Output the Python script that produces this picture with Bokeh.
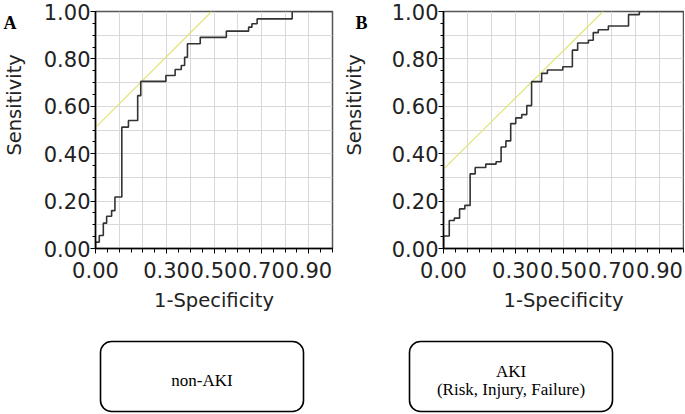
import math
from bokeh.plotting import figure
from bokeh.models import (Range1d, FixedTicker, NumeralTickFormatter, Label,
                          BoxAnnotation)
from bokeh.layouts import column, row
from bokeh.embed import file_html
from bokeh.resources import INLINE

# ---------------- data ----------------
# Panel A: non-AKI ROC curve (step corners: at fpr the curve rises to tpr)
fpr_a = [0.000, 0.000, 0.016, 0.033, 0.047, 0.068, 0.082, 0.111, 0.139, 0.178,
         0.191, 0.297, 0.336, 0.362, 0.376, 0.388, 0.442, 0.552, 0.646, 0.660,
         0.682, 0.830, 1.000]
tpr_a = [0.000, 0.027, 0.055, 0.107, 0.136, 0.160, 0.217, 0.512, 0.540, 0.645,
         0.705, 0.730, 0.755, 0.772, 0.807, 0.864, 0.891, 0.917, 0.934, 0.948,
         0.969, 1.000, 1.000]
# Panel B: AKI ROC curve
fpr_b = [0.000, 0.000, 0.024, 0.045, 0.067, 0.089, 0.111, 0.132, 0.176, 0.219,
         0.240, 0.260, 0.280, 0.301, 0.326, 0.347, 0.367, 0.409, 0.433, 0.497,
         0.537, 0.559, 0.604, 0.624, 0.645, 0.687, 0.771, 0.816, 1.000]
tpr_b = [0.000, 0.053, 0.118, 0.128, 0.167, 0.182, 0.315, 0.342, 0.356, 0.366,
         0.428, 0.454, 0.527, 0.551, 0.565, 0.603, 0.704, 0.739, 0.753, 0.767,
         0.837, 0.867, 0.879, 0.911, 0.923, 0.939, 0.987, 1.000, 1.000]
# Tangent (slope 1) lines through the optimal cut-off
tan_a_x = [0.0, 0.49]
tan_a_y = [0.51, 1.00]
tan_b_x = [0.0, 0.665]
tan_b_y = [0.335, 1.00]

x_major = [0.0, 0.3, 0.5, 0.7, 0.9]
y_major = [0.0, 0.2, 0.4, 0.6, 0.8, 1.0]
grid_ticks = [0.1, 0.2, 0.3, 0.4, 0.5, 0.6, 0.7, 0.8, 0.9]
minor_ticks = [round(i * 0.05, 2) for i in range(21)]

panel_letters = ["A", "B"]
y_title = "Sensitivity"
x_title = "1-Specificity"
box_texts = [["non-AKI"], ["AKI", "(Risk, Injury, Failure)"]]

SANS = "DejaVu Sans"
SERIF = "Liberation Serif"
PANEL_H = 330
SIDE_W = 28


def blank_fig(width, height):
    f = figure(width=width, height=height, output_backend="svg", title=None,
               toolbar_location=None, x_range=Range1d(0, width),
               y_range=Range1d(0, height), min_border=0,
               x_axis_type=None, y_axis_type=None)
    f.outline_line_color = None
    f.grid.visible = False
    f.background_fill_color = "white"
    f.border_fill_color = "white"
    return f


def make_side(letter, letter_x):
    """Strip left of each panel: panel letter and the rotated y title."""
    f = blank_fig(SIDE_W, PANEL_H)
    f.add_layout(Label(x=letter_x, y=PANEL_H - 15.5, text=letter,
                       text_font=SERIF, text_font_style="bold",
                       text_font_size="18px", text_color="black",
                       text_align="left", text_baseline="middle"))
    f.add_layout(Label(x=14, y=PANEL_H - 130, text=y_title, angle=math.pi / 2,
                       text_font=SANS, text_font_size="19.5px",
                       text_color="#222222", text_align="center",
                       text_baseline="middle"))
    return f


def make_panel(fx, fy, tx, ty, width, left, frame_h, right):
    top = 11
    bottom = PANEL_H - top - frame_h
    p = figure(width=width, height=PANEL_H, output_backend="svg", title=None,
               toolbar_location=None, x_range=Range1d(0, 1), y_range=Range1d(0, 1),
               min_border_left=left, min_border_right=right,
               min_border_top=top, min_border_bottom=bottom)
    p.background_fill_color = "white"
    p.border_fill_color = "white"
    p.outline_line_color = "#555555"
    p.outline_line_width = 1.5

    p.xgrid.ticker = FixedTicker(ticks=grid_ticks)
    p.ygrid.ticker = FixedTicker(ticks=grid_ticks)
    for g in (p.xgrid[0], p.ygrid[0]):
        g.grid_line_color = "#d9d9d9"
        g.grid_line_width = 1

    xa = p.xaxis[0]
    ya = p.yaxis[0]
    xa.ticker = FixedTicker(ticks=x_major, minor_ticks=minor_ticks)
    ya.ticker = FixedTicker(ticks=y_major, minor_ticks=minor_ticks)
    for ax in (xa, ya):
        ax.formatter = NumeralTickFormatter(format="0.00")
        ax.axis_line_color = "black"
        ax.axis_line_width = 1.5
        ax.major_tick_line_color = "black"
        ax.minor_tick_line_color = "black"
        ax.major_tick_in = 0
        ax.minor_tick_in = 0
        ax.major_tick_out = 5
        ax.minor_tick_out = 3
        ax.major_label_text_font = SANS
        ax.major_label_text_font_size = "21px"
        ax.major_label_text_color = "#222222"
        ax.axis_label_text_font = SANS
        ax.axis_label_text_font_size = "19.5px"
        ax.axis_label_text_font_style = "normal"
        ax.axis_label_text_color = "#222222"
    xa.minor_tick_out = 4
    xa.axis_label = x_title
    xa.major_label_standoff = 8
    ya.major_label_standoff = 0
    xa.axis_label_standoff = 8

    p.line(tx, ty, line_color="#e4e47c", line_width=1.3)
    p.step(fx, fy, mode="after", line_color="#333333", line_width=1.6)
    return p


def make_box(width, box_left, box_w, lines):
    h = 83
    b = blank_fig(width, h)
    top, bot = h - 11, h - 81
    b.add_layout(BoxAnnotation(left=box_left, right=box_left + box_w, top=top,
                               bottom=bot, fill_alpha=0, line_color="black",
                               line_alpha=1.0, line_width=1.6, border_radius=11))
    cx = box_left + box_w / 2
    cy = (top + bot) / 2 - 4
    n = len(lines)
    lh = 18
    for i, t in enumerate(lines):
        yy = cy - (i - (n - 1) / 2) * lh
        b.add_layout(Label(x=cx, y=yy, text=t, text_font=SERIF,
                           text_font_size="17px", text_color="black",
                           text_align="center", text_baseline="middle"))
    return b


sA = make_side(panel_letters[0], 3)
pA = make_panel(fpr_a, tpr_a, tan_a_x, tan_a_y, width=312, left=67,
                frame_h=237, right=8)
sB = make_side(panel_letters[1], 15)
pB = make_panel(fpr_b, tpr_b, tan_b_x, tan_b_y, width=316, left=75,
                frame_h=239, right=1)

bA = make_box(340, 100, 203, box_texts[0])
bB = make_box(344, 69, 203, box_texts[1])

layout = column(row(sA, pA, sB, pB), row(bA, bB))

with open("out.html", "w") as f:
    f.write(file_html(layout, INLINE))
